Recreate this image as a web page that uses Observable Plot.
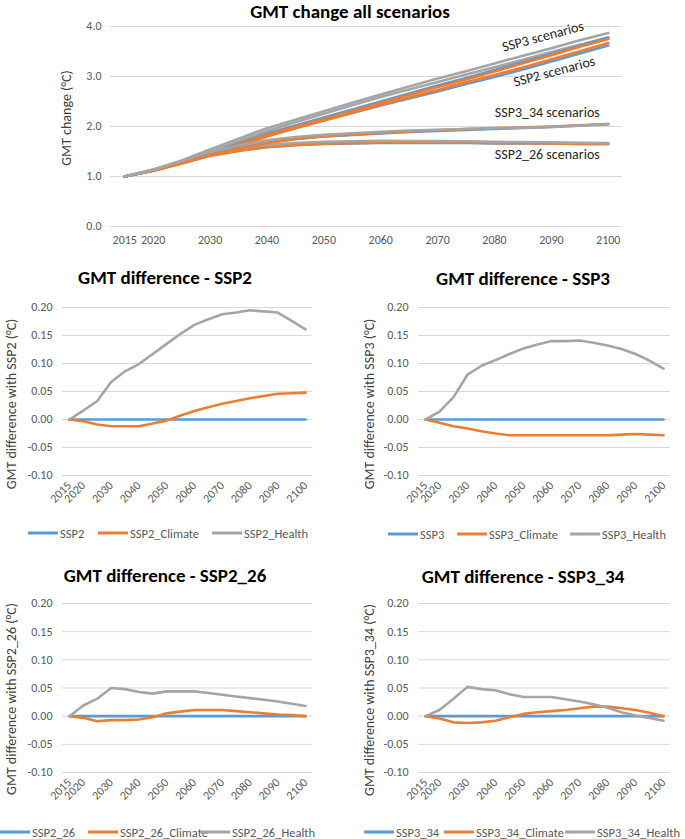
<!DOCTYPE html>
<html><head><meta charset="utf-8">
<script src="https://cdn.jsdelivr.net/npm/d3@7"></script>
<script src="https://cdn.jsdelivr.net/npm/@observablehq/plot@0.6"></script>
<style>
body{margin:0;background:#fff;}
#root{position:relative;width:685px;height:839px;overflow:hidden;font-family:Carlito,Lato,"Open Sans",sans-serif;background:#fff;}
.chart{position:absolute;}
.title{position:absolute;font-weight:bold;font-size:19px;color:#000;white-space:nowrap;transform:translate(-50%,-50%);}
.ytitle{position:absolute;font-size:14px;color:#404040;white-space:nowrap;transform:translate(-50%,-50%) rotate(-90deg);}
.leg{position:absolute;font-size:12.5px;color:#595959;white-space:nowrap;display:flex;align-items:center;transform:translateY(-50%);}
.leg .sw{display:inline-block;width:30px;height:3px;margin-right:2px;}
</style></head><body><div id="root"></div>
<script>
// ---------- data ----------
const years = [2015,2020,2025,2030,2035,2040,2045,2050,2055,2060,2065,2070,2075,2080,2085,2090,2095,2100];

// GMT change of the reference scenarios (°C)
const ssp2    = [1.00,1.12,1.27,1.43,1.62,1.81,1.97,2.12,2.27,2.42,2.56,2.70,2.85,2.99,3.14,3.30,3.46,3.62];
const ssp3    = [1.00,1.12,1.28,1.46,1.66,1.86,2.02,2.18,2.34,2.50,2.66,2.82,2.97,3.13,3.29,3.45,3.62,3.78];
const ssp2_26 = [1.00,1.12,1.27,1.42,1.52,1.59,1.63,1.65,1.66,1.67,1.67,1.67,1.67,1.66,1.66,1.66,1.65,1.65];
const ssp3_34 = [1.00,1.12,1.28,1.44,1.57,1.68,1.75,1.80,1.83,1.86,1.89,1.91,1.93,1.95,1.97,1.99,2.02,2.05];

// GMT difference of the variants with their reference scenario (°C)
const ssp2Climate    = [0,-0.003,-0.009,-0.012,-0.012,-0.012,-0.007,-0.002,0.007,0.015,0.022,0.028,0.033,0.038,0.042,0.046,0.047,0.048];
const ssp2Health     = [0,0.016,0.033,0.067,0.086,0.099,0.117,0.135,0.153,0.169,0.179,0.188,0.191,0.195,0.193,0.191,0.176,0.161];
const ssp3Climate    = [0,-0.006,-0.012,-0.016,-0.021,-0.025,-0.028,-0.028,-0.028,-0.028,-0.028,-0.028,-0.028,-0.028,-0.027,-0.026,-0.027,-0.028];
const ssp3Health     = [0,0.014,0.040,0.080,0.096,0.106,0.117,0.127,0.134,0.140,0.140,0.141,0.137,0.132,0.126,0.117,0.105,0.091];
const ssp2_26Climate = [0,-0.003,-0.009,-0.007,-0.007,-0.006,-0.002,0.005,0.008,0.011,0.011,0.011,0.009,0.007,0.005,0.003,0.002,0.000];
const ssp2_26Health  = [0,0.019,0.031,0.050,0.048,0.043,0.040,0.044,0.044,0.044,0.041,0.038,0.035,0.032,0.029,0.026,0.022,0.018];
const ssp3_34Climate = [0,-0.004,-0.011,-0.012,-0.011,-0.008,-0.002,0.004,0.007,0.009,0.011,0.014,0.017,0.017,0.014,0.011,0.006,0.000];
const ssp3_34Health  = [0,0.011,0.031,0.052,0.048,0.046,0.039,0.034,0.034,0.034,0.030,0.026,0.021,0.015,0.007,0.001,-0.003,-0.008];

const scenarioNames = ["SSP2","SSP3","SSP2_26","SSP3_34"];
const variantSuffixes = ["", "_Climate", "_Health"];

const xTickYears = [2015,2020,2030,2040,2050,2060,2070,2080,2090,2100];
const yTicksTop  = [0,1,2,3,4];
const yTicksDiff = [-0.10,-0.05,0,0.05,0.10,0.15,0.20];

const annotations = ["SSP3 scenarios","SSP2 scenarios","SSP3_34 scenarios","SSP2_26 scenarios"];

// ---------- build tables ----------
const refs = {SSP2: ssp2, SSP3: ssp3, SSP2_26: ssp2_26, SSP3_34: ssp3_34};
const diffs = {
  SSP2:    [years.map(()=>0), ssp2Climate, ssp2Health],
  SSP3:    [years.map(()=>0), ssp3Climate, ssp3Health],
  SSP2_26: [years.map(()=>0), ssp2_26Climate, ssp2_26Health],
  SSP3_34: [years.map(()=>0), ssp3_34Climate, ssp3_34Health]
};
const COLORS = ["#5B9BD5","#ED7D31","#A5A5A5"];

const topRows = [];
const topDomain = [], topRange = [];
for (const s of scenarioNames) {
  variantSuffixes.forEach((suf, k) => {
    const name = s + suf;
    topDomain.push(name); topRange.push(COLORS[k]);
    years.forEach((y, i) => topRows.push({year: y, value: refs[s][i] + diffs[s][k][i], series: name}));
  });
}

const root = document.getElementById("root");
const FONT = 'Carlito, Lato, "Open Sans", sans-serif';

function addDiv(cls, text, x, y) {
  const d = document.createElement("div");
  d.className = cls; d.textContent = text;
  d.style.left = x + "px"; d.style.top = y + "px";
  root.appendChild(d); return d;
}
function place(svg, x, y) {
  const w = document.createElement("div");
  w.className = "chart"; w.style.left = x + "px"; w.style.top = y + "px";
  w.appendChild(svg); root.appendChild(w);
}

// ---------- top chart ----------
const topChart = Plot.plot({
  width: 685, height: 255,
  marginLeft: 110, marginRight: 63, marginTop: 26, marginBottom: 29,
  style: {fontFamily: FONT, fontSize: "12px", color: "#595959", background: "transparent", overflow: "visible"},
  x: {domain: [2012.5, 2102.5], ticks: xTickYears, tickFormat: d => String(d), tickSize: 0, tickPadding: 9, label: null},
  y: {domain: [0, 4], ticks: yTicksTop, tickFormat: d => d.toFixed(1), tickSize: 0, tickPadding: 9, label: null},
  color: {domain: topDomain, range: topRange},
  marks: [
    Plot.gridY(yTicksTop, {stroke: "#D9D9D9", strokeOpacity: 1, strokeWidth: 1}),
    Plot.lineY(topRows, {x: "year", y: "value", z: "series", stroke: "series", strokeWidth: 2.6, strokeLinejoin: "round"}),
    Plot.text([annotations[0]], {x: 2088.5, y: 3.80, text: d => d, rotate: -15, fontSize: 14, fill: "#262626"}),
    Plot.text([annotations[1]], {x: 2090.5, y: 3.10, text: d => d, rotate: -15, fontSize: 14, fill: "#262626"}),
    Plot.text([annotations[2]], {x: 2098.5, y: 2.28, text: d => d, textAnchor: "end", fontSize: 14, fill: "#262626"}),
    Plot.text([annotations[3]], {x: 2098.5, y: 1.44, text: d => d, textAnchor: "end", fontSize: 14, fill: "#262626"})
  ]
});
place(topChart, 0, 0);
addDiv("title", "GMT change all scenarios", 350, 11);
addDiv("ytitle", "GMT change (°C)", 66, 118);

// ---------- difference charts ----------
function diffChart(s, left, top, ml, mr, mt, mb, w, h) {
  const rows = [];
  const names = variantSuffixes.map(suf => s + suf);
  variantSuffixes.forEach((suf, k) => {
    years.forEach((y, i) => rows.push({year: y, value: diffs[s][k][i], series: s + suf}));
  });
  const chart = Plot.plot({
    width: w, height: h,
    marginLeft: ml, marginRight: mr, marginTop: mt, marginBottom: mb,
    style: {fontFamily: FONT, fontSize: "12px", color: "#595959", background: "transparent", overflow: "visible"},
    x: {domain: [2012.5, 2102.5], ticks: xTickYears, tickFormat: d => String(d), tickSize: 0, tickPadding: 8, tickRotate: -45, label: null},
    y: {domain: [-0.1, 0.2], ticks: yTicksDiff, tickFormat: d => d.toFixed(2), tickSize: 0, tickPadding: 10, label: null},
    color: {domain: names, range: COLORS},
    marks: [
      Plot.gridY(yTicksDiff, {stroke: "#D9D9D9", strokeOpacity: 1, strokeWidth: 1}),
      Plot.lineY(rows, {x: "year", y: "value", z: "series", stroke: "series", strokeWidth: 2.6, strokeLinejoin: "round"})
    ]
  });
  place(chart, left, top);
  return names;
}
function legend(names, y, xs) {
  names.forEach((n, k) => {
    const d = document.createElement("div");
    d.className = "leg";
    d.style.left = xs[k] + "px"; d.style.top = y + "px";
    const sw = document.createElement("span");
    sw.className = "sw"; sw.style.background = COLORS[k];
    d.appendChild(sw);
    d.appendChild(document.createTextNode(n));
    root.appendChild(d);
  });
}

let n;
n = diffChart("SSP2", 0, 290, 62, 28, 17, 55, 340, 240);
addDiv("title", "GMT difference - SSP2", 165, 277);
addDiv("ytitle", "GMT difference with SSP2 (°C)", 11, 404);
legend(n, 533, [28, 98, 212]);

n = diffChart("SSP3", 340, 290, 78, 15, 17, 55, 345, 240);
addDiv("title", "GMT difference - SSP3", 523, 278);
addDiv("ytitle", "GMT difference with SSP3 (°C)", 369, 404);
legend(n, 534, [388, 457, 570]);

n = diffChart("SSP2_26", 0, 590, 62, 28, 13, 53, 340, 235);
addDiv("title", "GMT difference - SSP2_26", 165, 575);
addDiv("ytitle", "GMT difference with SSP2_26 (°C)", 11, 699);
legend(n, 832, [0, 88, 200]);

n = diffChart("SSP3_34", 340, 590, 78, 15, 13, 53, 345, 235);
addDiv("title", "GMT difference - SSP3_34", 523, 576);
addDiv("ytitle", "GMT difference with SSP3_34 (°C)", 369, 700);
legend(n, 832, [364, 444, 565]);
</script>
</body></html>
